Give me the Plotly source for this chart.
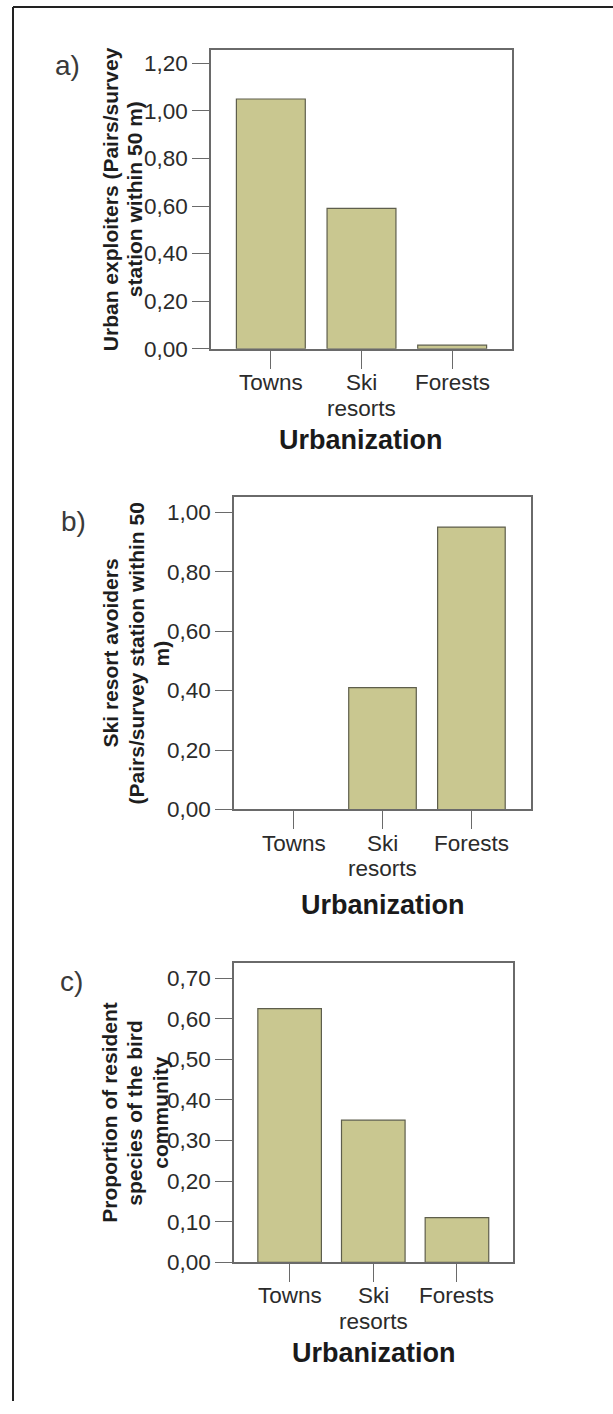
import plotly.graph_objects as go

# ---- data -----------------------------------------------------------------
categories = ["Towns", "Ski resorts", "Forests"]
category_lines = [["Towns"], ["Ski", "resorts"], ["Forests"]]

urban_exploiters = [1.05, 0.59, 0.015]
ski_resort_avoiders = [0.0, 0.41, 0.95]
resident_proportion = [0.625, 0.35, 0.11]

ticks_a = [0.0, 0.2, 0.4, 0.6, 0.8, 1.0, 1.2]
ticks_b = [0.0, 0.2, 0.4, 0.6, 0.8, 1.0]
ticks_c = [0.0, 0.1, 0.2, 0.3, 0.4, 0.5, 0.6, 0.7]

title_a = ["Urban exploiters (Pairs/survey", "station within 50 m)"]
title_b = ["Ski resort avoiders", "(Pairs/survey station within 50", "m)"]
title_c = ["Proportion of resident", "species of the bird", "community"]

x_title = "Urbanization"
panel_tags = ["a)", "b)", "c)"]

# ---- page geometry (pixels) -------------------------------------------------
W, H = 613, 1414
FONT = "Liberation Sans, Arial, sans-serif"
BAR_FILL = "#c9c790"
BAR_EDGE = "#5e5e4c"
AXIS_COL = "#6a6a6a"
TEXT_COL = "#2b2b2b"
TICK_SIZE = 22.5


def fx(px):
    return px / W


def fy(py):
    return 1 - py / H


# plot boxes: left, right, top, bottom ; y upper limit ; x range
panels = [
    dict(box=(211, 512, 50, 352), ymax=1.258, xr=(-0.66, 2.66),
         vals=urban_exploiters, ticks=ticks_a, title=title_a,
         title_x=[110, 134], tag_xy=(67, 66), xtitle_off=92),
    dict(box=(234, 531, 502, 817), ymax=1.05, xr=(-0.67, 2.67),
         vals=ski_resort_avoiders, ticks=ticks_b, title=title_b,
         title_x=[110, 136, 161], tag_xy=(73, 526), xtitle_off=96),
    dict(box=(234, 513, 972, 1274), ymax=0.737, xr=(-0.665, 2.67),
         vals=resident_proportion, ticks=ticks_c, title=title_c,
         title_x=[110, 135, 161], tag_xy=(71, 991), xtitle_off=92),
]

LABEL_LINE1 = 34   # px below the axis, first line of a category label
LABEL_STEP = 26    # px between label lines

fig = go.Figure()
annotations = []
layout_axes = {}

for i, p in enumerate(panels, start=1):
    left, right, top, bottom = p["box"]
    xa = "x" if i == 1 else f"x{i}"
    ya = "y" if i == 1 else f"y{i}"
    fig.add_trace(go.Bar(
        x=categories, y=p["vals"], width=0.76,
        marker=dict(color=BAR_FILL, line=dict(color=BAR_EDGE, width=1.2)),
        xaxis=xa, yaxis=ya, showlegend=False, hoverinfo="skip",
    ))
    xkey = "xaxis" if i == 1 else f"xaxis{i}"
    ykey = "yaxis" if i == 1 else f"yaxis{i}"
    layout_axes[xkey] = dict(
        domain=[fx(left), fx(right)], anchor=ya, range=list(p["xr"]),
        type="category", tickvals=categories, showticklabels=False,
        showline=True, mirror=True, linecolor=AXIS_COL, linewidth=1.5,
        ticks="outside", ticklen=18, tickwidth=1.3, tickcolor=AXIS_COL,
        showgrid=False, zeroline=False, fixedrange=True,
    )
    layout_axes[ykey] = dict(
        domain=[fy(bottom), fy(top)], anchor=xa, range=[0, p["ymax"]],
        tickvals=p["ticks"], tickformat=".2f",
        showline=True, mirror=True, linecolor=AXIS_COL, linewidth=1.5,
        ticks="outside", ticklen=17, tickwidth=1.3, tickcolor=AXIS_COL,
        tickfont=dict(family=FONT, size=TICK_SIZE, color=TEXT_COL),
        showgrid=False, zeroline=False, fixedrange=True,
    )

    # category labels under the ticks (tight line spacing)
    for cat, lines in zip(categories, category_lines):
        for k, line in enumerate(lines):
            annotations.append(dict(
                text=line, showarrow=False,
                xref=xa, yref="paper", x=cat,
                y=fy(bottom + LABEL_LINE1 + k * LABEL_STEP),
                xanchor="center", yanchor="middle",
                font=dict(family=FONT, size=TICK_SIZE, color=TEXT_COL),
            ))

    # rotated y-axis title, one annotation per line
    yc = (top + bottom) / 2
    for line, xc in zip(p["title"], p["title_x"]):
        annotations.append(dict(
            text=f"<b>{line}</b>", textangle=-90, showarrow=False,
            xref="paper", yref="paper", x=fx(xc), y=fy(yc),
            xanchor="center", yanchor="middle",
            font=dict(family=FONT, size=21, color="#1e1e1e"),
        ))

    # x-axis title
    annotations.append(dict(
        text=f"<b>{x_title}</b>", showarrow=False,
        xref="paper", yref="paper", x=fx((left + right) / 2),
        y=fy(bottom + p["xtitle_off"]), xanchor="center", yanchor="middle",
        font=dict(family=FONT, size=27, color="#1a1a1a"),
    ))

    # panel tag
    tx, ty = p["tag_xy"]
    annotations.append(dict(
        text=panel_tags[i - 1], showarrow=False,
        xref="paper", yref="paper", x=fx(tx), y=fy(ty),
        xanchor="center", yanchor="middle",
        font=dict(family=FONT, size=28, color="#3a3a3a"),
    ))

# outer frame: left and top edges
frame = [
    dict(type="line", xref="paper", yref="paper",
         x0=fx(13), x1=fx(13), y0=0, y1=fy(7),
         line=dict(color="#222222", width=2)),
    dict(type="line", xref="paper", yref="paper",
         x0=fx(13), x1=1, y0=fy(7), y1=fy(7),
         line=dict(color="#222222", width=2)),
]

fig.update_layout(
    width=W, height=H,
    margin=dict(l=0, r=0, t=0, b=0),
    paper_bgcolor="white", plot_bgcolor="white",
    separators=",.",
    annotations=annotations,
    shapes=frame,
    font=dict(family=FONT),
    **layout_axes,
)

fig.write_html("out.html", include_plotlyjs=True, config={"displayModeBar": False})
